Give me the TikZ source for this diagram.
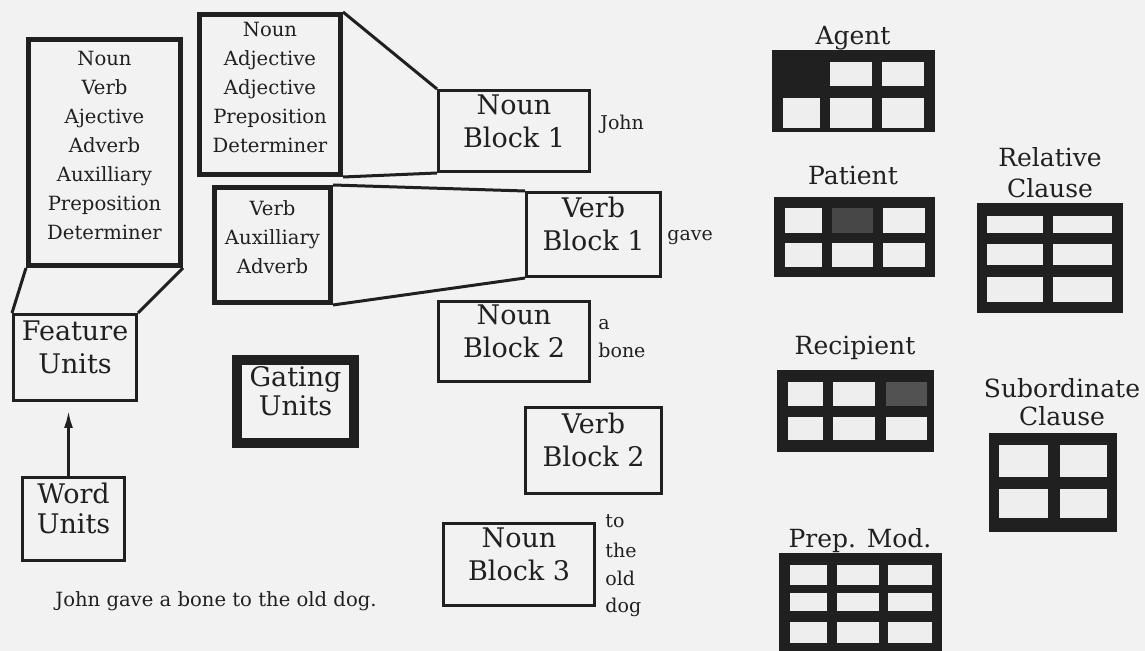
\documentclass[tikz,border=0pt]{standalone}
\usepackage{fontspec}
\setmainfont{DejaVu Serif}
\usetikzlibrary{arrows.meta,fit}
\definecolor{ink}{RGB}{32,32,32}
\definecolor{paper}{RGB}{242,242,242}
\definecolor{cellpaper}{RGB}{238,238,238}
\newcommand\lstfnt{\fontsize{9.8}{14.5}\selectfont}
\newcommand\blkfnt{\fontsize{13.5}{16.5}\selectfont}
\newcommand\wrdfnt{\fontsize{9.5}{11}\selectfont}
\newcommand\rolfnt{\fontsize{12.5}{15}\selectfont}
\begin{document}
\begin{tikzpicture}[x=0.5pt,y=-0.5pt,
  listbox/.style={draw=ink,line width=2.5pt,inner sep=0pt,align=center,font=\lstfnt,text=ink},
  blockbox/.style={draw=ink,line width=1.5pt,inner sep=0pt,align=center,font=\blkfnt,text=ink},
  gatebox/.style={draw=ink,line width=5pt,inner sep=0pt,align=center,text=ink},
  wordlbl/.style={anchor=base west,inner sep=0pt,font=\wrdfnt,text=ink},
  rolelbl/.style={anchor=base,inner sep=0pt,font=\rolfnt,text=ink},
  conn/.style={draw=ink,line width=1.5pt}]
\useasboundingbox (0,0) rectangle (1145,651);
\fill[paper] (0,0) rectangle (1145,651);

% list boxes
\node[listbox,fit={(28.5,39.5)(180.5,265.5)}] (fl) {Noun\\Verb\\Ajective\\Adverb\\Auxilliary\\Preposition\\Determiner};
\node[listbox,fit={(199.5,14.5)(340.5,174.5)}] (nl) {Noun\\Adjective\\Adjective\\Preposition\\Determiner};
\node[listbox,fit={(214.5,187.5)(330.5,302.5)}] (vl) {Verb\\Auxilliary\\Adverb};

% blocks
\node[blockbox,fit={(438.5,90.5)(589.5,171.5)}] (nb1) {Noun\\Block 1};
\node[blockbox,fit={(526.5,192.5)(660.5,276.5)}] (vb1) {Verb\\Block 1};
\node[blockbox,fit={(438.5,301.5)(589.5,381.5)}] (nb2) {Noun\\Block 2};
\node[blockbox,fit={(525.5,407.5)(661.5,493.5)}] (vb2) {Verb\\Block 2};
\node[blockbox,fit={(443.5,523.5)(594.5,605.5)}] (nb3) {Noun\\Block 3};

% units
\node[blockbox,fit={(13.5,314.5)(136.5,400.5)}] (fu) {Feature\\Units};
\node[blockbox,font={\fontsize{13.5}{15}\selectfont},fit={(22.5,477.5)(124.5,560.5)}] (wu) {Word\\Units};
\node[gatebox,font={\fontsize{13.5}{14.5}\selectfont},fit={(237,360)(354,443)}] (gu) {Gating\\Units};

% connectors
\draw[conn] (nl.north east) -- (nb1.north west);
\draw[conn] (nl.south east) -- (nb1.south west);
\draw[conn] (vl.north east) -- (vb1.north west);
\draw[conn] (vl.south east) -- (vb1.south west);
\draw[conn] (fl.south west) -- (fu.north west);
\draw[conn] (fl.south east) -- (fu.north east);
\draw[conn,-{Latex[length=9pt,width=4.5pt]},shorten >=4pt] ([xshift=-2.5pt]wu.north) -- ([xshift=-2.5pt]wu.north |- fu.south);

% word labels
\node[wordlbl] (wjohn) at (600,130) {John};
\node[wordlbl] (wgave) at (667,241) {gave};
\node[wordlbl] (wa) at (598,330) {a};
\node[wordlbl] (wbone) at (598,358) {bone};
\node[wordlbl] (wto) at (605,528) {to};
\node[wordlbl] (wthe) at (605,557) {the};
\node[wordlbl] (wold) at (605,585) {old};
\node[wordlbl] (wdog) at (605,612) {dog};
\node[wordlbl,font={\fontsize{9.8}{11}\selectfont}] (sent) at (55,606) {John gave a bone to the old dog.};

% role grids
% Agent
\node[rolelbl] (lagent) at (853,45) {Agent};
\fill[ink] (772,50) rectangle (935,132);
\foreach \a/\b/\c/\d in {830/62/872/86,882/62/924/86,783/98/820/128,830/98/872/128,882/98/924/128}
  \fill[cellpaper] (\a,\b) rectangle (\c,\d);
% Patient
\node[rolelbl] (lpatient) at (853,185) {Patient};
\fill[ink] (774,197) rectangle (935,277);
\foreach \a/\b/\c/\d in {785/208/822/233,883/208/925/233,785/243/822/267,832/243/873/267,883/243/925/267}
  \fill[cellpaper] (\a,\b) rectangle (\c,\d);
\fill[black!72] (832,208) rectangle (873,233);
% Relative clause
\node[rolelbl] (lrel) at (1050,167) {Relative};
\node[rolelbl] (lrelc) at (1050,198) {Clause};
\fill[ink] (977,203) rectangle (1123,313);
\foreach \a/\c in {987/1043,1053/1112}
  \foreach \b/\d in {216/233,244/265,277/302}
    \fill[cellpaper] (\a,\b) rectangle (\c,\d);
% Recipient
\node[rolelbl] (lrec) at (855,355) {Recipient};
\fill[ink] (777,370) rectangle (934,452);
\foreach \a/\b/\c/\d in {788/382/823/406,833/382/875/406,788/417/823/440,833/417/875/440,886/417/927/440}
  \fill[cellpaper] (\a,\b) rectangle (\c,\d);
\fill[black!68] (886,382) rectangle (927,406);
% Subordinate clause
\node[rolelbl] (lsub) at (1062,398) {Subordinate};
\node[rolelbl] (lsubc) at (1062,426) {Clause};
\fill[ink] (989,433) rectangle (1117,532);
\foreach \a/\c in {999/1048,1060/1107}
  \foreach \b/\d in {445/477,489/518}
    \fill[cellpaper] (\a,\b) rectangle (\c,\d);
% Prep. Mod.
\node[rolelbl] (lprep) at (860,547) {Prep. Mod.};
\fill[ink] (779,553) rectangle (942,651);
\foreach \a/\c in {790/827,837/879,888/932}
  \foreach \b/\d in {565/585,593/611,622/643}
    \fill[cellpaper] (\a,\b) rectangle (\c,\d);
\end{tikzpicture}
\end{document}
